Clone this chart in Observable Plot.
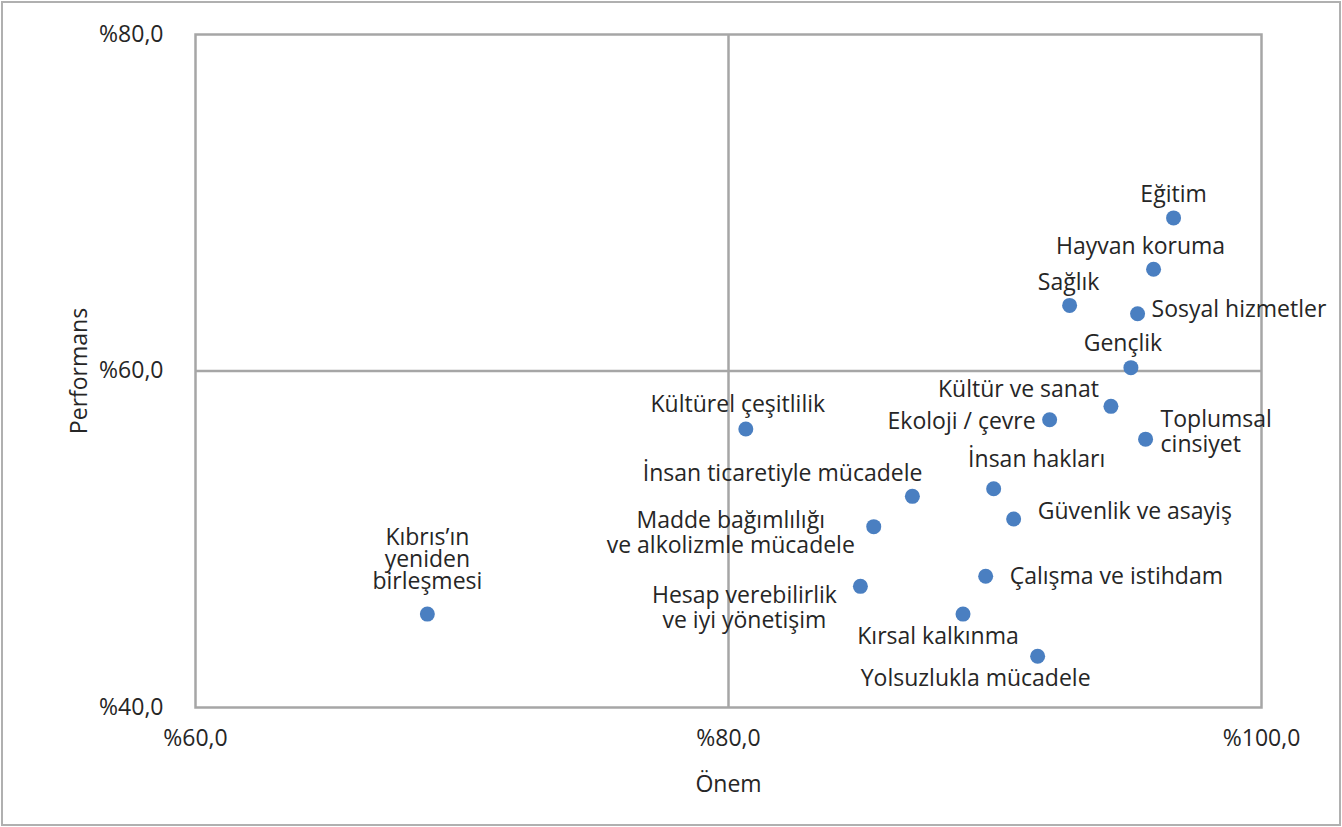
<!DOCTYPE html>
<html>
<head>
<meta charset="utf-8">
<script src="https://cdn.jsdelivr.net/npm/d3@7"></script>
<script src="https://cdn.jsdelivr.net/npm/@observablehq/plot@0.6"></script>
<style>
  html, body { margin: 0; padding: 0; background: #fff; }
  #chart svg { display: block; outline: 2px solid #b0b0b0; outline-offset: -3px; }
</style>
</head>
<body>
<div id="chart"></div>
<script>
// Data
const categories = [
  "Eğitim", "Hayvan koruma", "Sağlık", "Sosyal hizmetler", "Gençlik",
  "Kültür ve sanat", "Ekoloji / çevre", "Toplumsal\ncinsiyet", "Kültürel çeşitlilik",
  "İnsan hakları", "İnsan ticaretiyle mücadele", "Güvenlik ve asayiş",
  "Madde bağımlılığı\nve alkolizmle mücadele", "Çalışma ve istihdam",
  "Hesap verebilirlik\nve iyi yönetişim", "Kırsal kalkınma", "Yolsuzlukla mücadele",
  "Kıbrıs’ın\nyeniden\nbirleşmesi"
];
const onem = [96.7, 95.95, 92.8, 95.35, 95.1, 94.35, 92.05, 95.65, 80.65, 89.95, 86.9, 90.7, 85.45, 89.65, 84.95, 88.8, 91.6, 68.7];
const performans = [69.1, 66.05, 63.9, 63.4, 60.2, 57.9, 57.1, 55.95, 56.55, 53.0, 52.55, 51.2, 50.75, 47.8, 47.2, 45.55, 43.05, 45.55];
const xTicks = [60, 80, 100];
const yTicks = [40, 60, 80];

// Label placement (styling, kept separate from data)
const labelPlacement = {
  "Eğitim": {a: "middle", dx: 0, dy: -24},
  "Hayvan koruma": {a: "middle", dx: -13, dy: -23},
  "Sağlık": {a: "middle", dx: -1, dy: -23},
  "Sosyal hizmetler": {a: "start", dx: 14, dy: -5},
  "Gençlik": {a: "middle", dx: -8, dy: -25},
  "Kültür ve sanat": {a: "end", dx: -12, dy: -17},
  "Ekoloji / çevre": {a: "end", dx: -14, dy: 1},
  "Toplumsal\ncinsiyet": {a: "start", dx: 15, dy: -8},
  "Kültürel çeşitlilik": {a: "middle", dx: -8, dy: -25},
  "İnsan hakları": {a: "middle", dx: 43, dy: -30},
  "İnsan ticaretiyle mücadele": {a: "end", dx: 10, dy: -23},
  "Güvenlik ve asayiş": {a: "start", dx: 24, dy: -8},
  "Madde bağımlılığı\nve alkolizmle mücadele": {a: "middle", dx: -143, dy: 6},
  "Çalışma ve istihdam": {a: "start", dx: 24, dy: 0},
  "Hesap verebilirlik\nve iyi yönetişim": {a: "middle", dx: -116, dy: 21},
  "Kırsal kalkınma": {a: "middle", dx: -25, dy: 22},
  "Yolsuzlukla mücadele": {a: "middle", dx: -62, dy: 22},
  "Kıbrıs’ın\nyeniden\nbirleşmesi": {a: "middle", dx: 0, dy: -54}
};

const rows = categories.map((c, i) => ({name: c, x: onem[i], y: performans[i]}));
const fmt = d => "%" + d.toFixed(1).replace(".", ",");
const gridColor = "#a6a6a6";
const textColor = "#262626";
const fs = 23;

const labelMarks = rows.map(r => Plot.text([r], {
  x: "x", y: "y", text: "name",
  textAnchor: labelPlacement[r.name].a,
  dx: labelPlacement[r.name].dx,
  dy: labelPlacement[r.name].dy,
  lineAnchor: "middle",
  lineHeight: r.name.startsWith("Kıbrıs") ? 0.96 : 1.09,
  fill: textColor,
  fontSize: fs
}));

const chart = Plot.plot({
  width: 1342,
  height: 827,
  marginLeft: 195,
  marginRight: 81,
  marginTop: 34,
  marginBottom: 120,
  style: {fontFamily: "'Open Sans', sans-serif", fontSize: fs + "px", color: textColor, background: "#fff"},
  x: {domain: [60, 100]},
  y: {domain: [40, 80]},
  marks: [
    Plot.ruleX([80], {stroke: gridColor, strokeWidth: 2.5}),
    Plot.ruleY([60], {stroke: gridColor, strokeWidth: 2.5}),
    Plot.frame({stroke: gridColor, strokeWidth: 2.5}),
    Plot.axisX(xTicks, {tickSize: 0, tickPadding: 22, tickFormat: fmt, fontSize: fs, fill: textColor,
      label: "Önem", labelAnchor: "center", labelOffset: 84, labelArrow: "none"}),
    Plot.axisY(yTicks, {tickSize: 0, tickPadding: 32, tickFormat: fmt, fontSize: fs, fill: textColor,
      label: "Performans", labelAnchor: "center", labelOffset: 125, labelArrow: "none"}),
    Plot.dot(rows, {x: "x", y: "y", r: 7.5, fill: "#4a7fc1", stroke: "none"}),
    ...labelMarks
  ]
});
document.getElementById("chart").appendChild(chart);
</script>
</body>
</html>
